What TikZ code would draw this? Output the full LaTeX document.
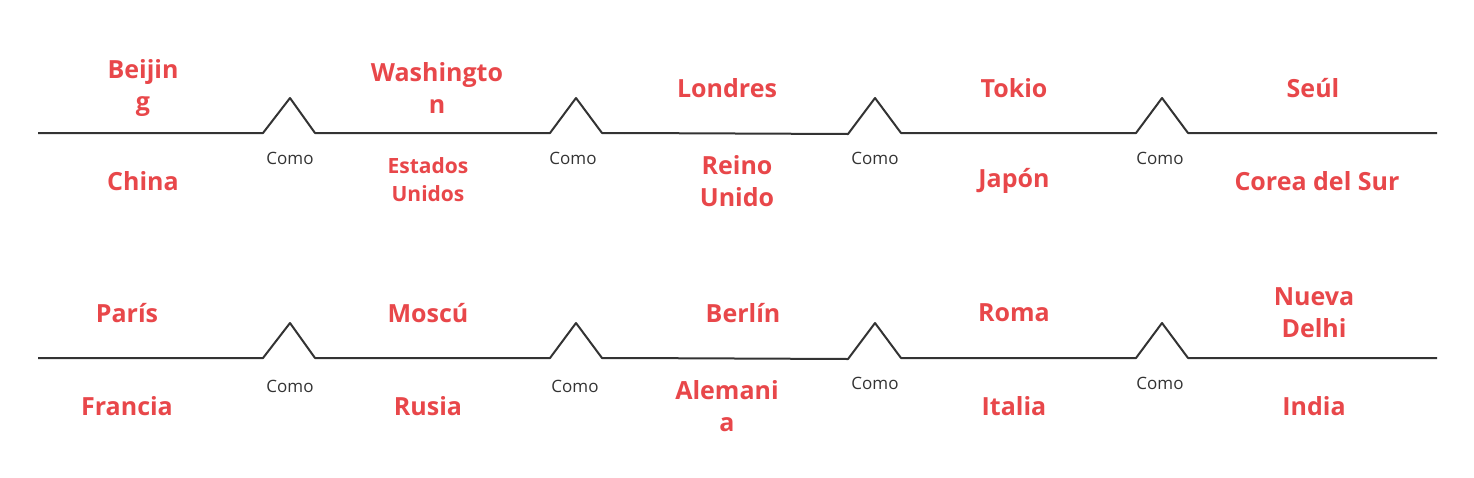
\documentclass[tikz,border=0pt]{standalone}
\usepackage{fontspec}
\setmainfont{Open Sans}
\definecolor{lbl}{HTML}{E8474A}
\definecolor{ln}{HTML}{333333}
\begin{document}
\begin{tikzpicture}[x=1pt,y=-1pt,
  city/.style={text=lbl,font=\fontsize{25}{32}\selectfont\bfseries,align=center,inner sep=0},
  small/.style={text=lbl,font=\fontsize{21}{28}\selectfont\bfseries,align=center,inner sep=0},
  como/.style={text=ln,font=\fontsize{17}{20}\selectfont,inner sep=0},
  wire/.style={draw=ln,line width=2pt,line join=round}]
\useasboundingbox (0,0) rectangle (1474,477);
\foreach \y in {133,358}{
  \draw[wire] (38,\y) -- (263,\y) -- (290,\y-35) -- (315,\y) -- (550,\y) -- (576,\y-35) -- (602,\y) -- (624,\y);
  \draw[wire] (624,\y) -- (848,\y+1) -- (875,\y-35) -- (901,\y) -- (1136,\y) -- (1162,\y-35) -- (1188,\y) -- (1437,\y);
}
\node[como] (c1) at (290,158) {Como};
\node[como] (c2) at (573,158) {Como};
\node[como] (c3) at (875,158) {Como};
\node[como] (c4) at (1160,158) {Como};
\node[como] (c5) at (290,386) {Como};
\node[como] (c6) at (575,386) {Como};
\node[como] (c7) at (875,383) {Como};
\node[como] (c8) at (1160,383) {Como};
\node[city] (a1) at (143,88) {Beijin\\g};
\node[city] (a2) at (437,88) {Washingto\\n};
\node[city] (a3) at (727,88) {Londres};
\node[city] (a4) at (1014,88) {Tokio};
\node[city] (a5) at (1313,88) {Seúl};
\node[city] (b1) at (143,181) {China};
\node[small] (b2) at (428,180) {Estados\\Unidos};
\node[city] (b3) at (737,181) {Reino\\Unido};
\node[city] (b4) at (1014,181) {Japón};
\node[city] (b5) at (1317,181) {Corea del Sur};
\node[city] (d1) at (127,313) {París};
\node[city] (d2) at (428,313) {Moscú};
\node[city] (d3) at (743,313) {Berlín};
\node[city] (d4) at (1014,313) {Roma};
\node[city] (d5) at (1314,313) {Nueva\\Delhi};
\node[city] (e1) at (127,406) {Francia};
\node[city] (e2) at (428,406) {Rusia};
\node[city] (e3) at (727,406) {Alemani\\a};
\node[city] (e4) at (1014,406) {Italia};
\node[city] (e5) at (1314,406) {India};
\end{tikzpicture}
\end{document}
